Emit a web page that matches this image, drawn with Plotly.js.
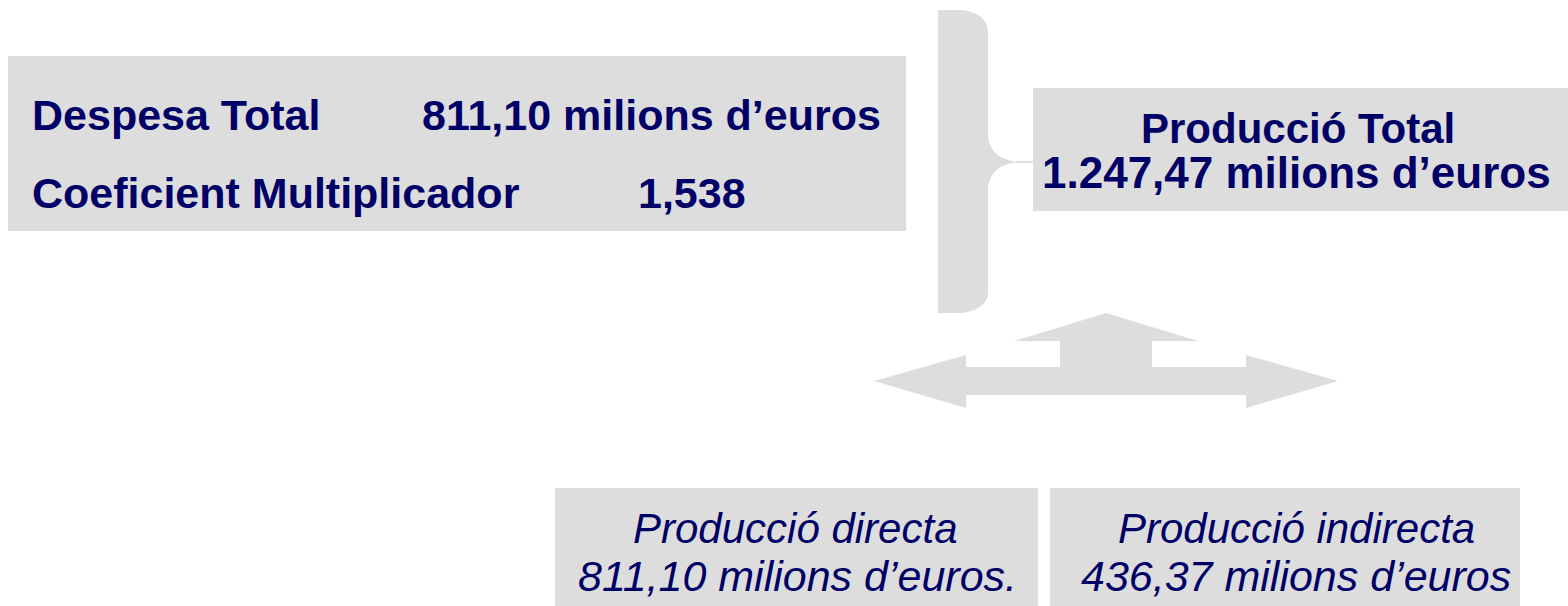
<!DOCTYPE html>
<html>
<head>
<meta charset="utf-8">
<script src="https://cdn.plot.ly/plotly-3.0.1.min.js"></script>
<style>html,body{margin:0;padding:0;background:#fff;}#chart{width:1568px;height:606px;}</style>
</head>
<body>
<div id="chart"></div>
<script>
// Text content of the diagram
var summaryLabels = ["Despesa Total", "Coeficient Multiplicador"];
var summaryValues = ["811,10 milions d\u2019euros", "1,538"];
var totalLines = ["Producci\u00f3 Total", "1.247,47 milions d\u2019euros"];
var directLines = ["Producci\u00f3 directa", "811,10 milions d\u2019euros."];
var indirectLines = ["Producci\u00f3 indirecta", "436,37 milions d\u2019euros"];

var GRAY = "#dddddd";
var NAVY = "#000066";
var FONT = "Liberation Sans, Arial, sans-serif";

function rect(x0, y0, x1, y1) {
  return {type: "rect", xref: "x", yref: "y", x0: x0, y0: y0, x1: x1, y1: y1,
          fillcolor: GRAY, line: {width: 0}, layer: "below"};
}

var shapes = [
  rect(8, 56, 906, 231),
  rect(1033, 88, 1568, 211),
  rect(555, 488, 1038, 606),
  rect(1050, 488, 1520, 606),
  // brace
  {type: "path", xref: "x", yref: "y", fillcolor: GRAY, line: {width: 0}, layer: "below",
   path: "M 938 10 L 957 10 C 975 10 988 18 988 32 L 988 137 C 990 152 1000 160 1018 162 " +
         "C 1000 164 990 172 988 187 L 988 292 C 988 305 975 313 957 313 L 938 313 Z"},
  {type: "line", xref: "x", yref: "y", x0: 1016, y0: 162, x1: 1034, y1: 162,
   line: {color: GRAY, width: 2}, layer: "below"},
  // arrows
  {type: "path", xref: "x", yref: "y", fillcolor: GRAY, line: {width: 0}, layer: "below",
   path: "M 1106 313 L 1198 341 L 1152 341 L 1152 367 L 1246 367 L 1246 355 L 1338 381 " +
         "L 1246 408 L 1246 395 L 966 395 L 966 408 L 874 381 L 966 355 L 966 367 " +
         "L 1060 367 L 1060 341 L 1014 341 Z"}
];

function ann(text, x, y, xanchor, size, bold, italic) {
  return {xref: "x", yref: "y", x: x, y: y, xanchor: xanchor, yanchor: "middle",
          text: bold ? "<b>" + text + "</b>" : (italic ? "<i>" + text + "</i>" : text),
          showarrow: false,
          font: {family: FONT, size: size, color: NAVY}};
}

var annotations = [
  ann(summaryLabels[0], 30, 115, "left", 43, true),
  ann(summaryValues[0], 420, 115, "left", 43, true),
  ann(summaryLabels[1], 30, 193, "left", 43, true),
  ann(summaryValues[1], 636, 193, "left", 43, true),
  ann(totalLines[0], 1298, 128, "center", 42, true),
  ann(totalLines[1], 1296, 172, "center", 44, true),
  ann(directLines[0], 795, 528, "center", 42, false, true),
  ann(directLines[1], 797, 576, "center", 43, false, true),
  ann(indirectLines[0], 1296, 528, "center", 42, false, true),
  ann(indirectLines[1], 1296, 576, "center", 43, false, true)
];

var layout = {
  width: 1568, height: 606,
  margin: {l: 0, r: 0, t: 0, b: 0},
  paper_bgcolor: "#ffffff", plot_bgcolor: "#ffffff",
  xaxis: {range: [0, 1568], visible: false, fixedrange: true},
  yaxis: {range: [606, 0], visible: false, fixedrange: true},
  showlegend: false,
  shapes: shapes,
  annotations: annotations
};

Plotly.newPlot("chart", [], layout, {displayModeBar: false, staticPlot: true});
</script>
</body>
</html>
